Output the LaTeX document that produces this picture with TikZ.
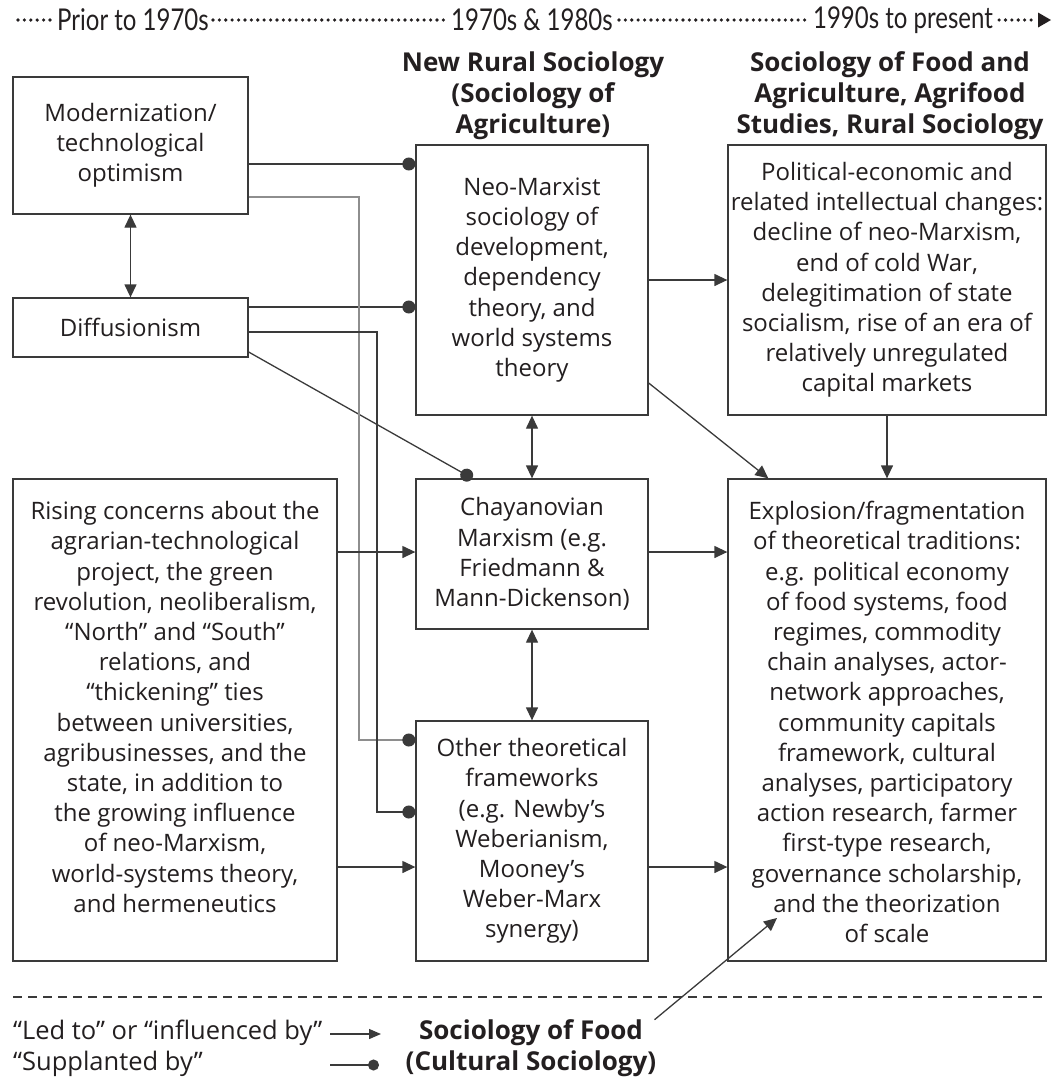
\documentclass[tikz,border=0pt]{standalone}
\usepackage{fontspec}
\setmainfont{Open Sans}
\newfontfamily\timefont[FakeStretch=0.8]{Lato}
\usetikzlibrary{arrows.meta,calc}
\definecolor{ink}{HTML}{231F20}
\definecolor{edge}{HTML}{3A3A3A}
\definecolor{pale}{HTML}{8E8E8E}
\begin{document}
\begin{tikzpicture}[x=1pt,y=-1pt,
  every node/.style={text=ink},
  body/.style={font=\fontsize{24}{30.2}\selectfont, align=center, inner sep=0pt},
  keytext/.style={font=\fontsize{25.5}{30}\selectfont, inner sep=0pt},
  head/.style={font=\bfseries\fontsize{26}{31}\selectfont, align=center, inner sep=0pt},
  stamp/.style={font=\timefont\fontsize{30}{30}\selectfont, inner sep=0pt},
  box/.style={draw=edge, line width=1.3pt, fill=white, inner sep=0pt},
  conn/.style={draw=edge, line width=1.3pt},
  led/.style={conn, -{Triangle[length=13pt,width=12pt]}},
  both/.style={conn, {Triangle[length=13pt,width=12pt]}-{Triangle[length=13pt,width=12pt]}},
  supp/.style={conn, -{Circle[length=13pt]}},
  tdots/.style={draw=ink, line width=3.6pt, line cap=round, dash pattern=on 0pt off 6.4pt}
]
\useasboundingbox (0,0) rectangle (1053,1080);

% ---- time line ----
\node[stamp] (t1) at (133,20) {Prior to 1970s};
\node[stamp] (t2) at (532,20) {1970s \& 1980s};
\node[stamp] (t3) at (903,20) {1990s to present};
\coordinate (tl0) at (18,20);
\coordinate (tl1) at (1036,20);
\draw[tdots] (tl0) -- ([xshift=-5]t1.west);
\draw[tdots] ([xshift=4]t1.east) -- ([xshift=-6]t2.west);
\draw[tdots] ([xshift=6]t2.east) -- ([xshift=-6]t3.west);
\draw[tdots] ([xshift=6]t3.east) -- (tl1);
\fill[ink] (1038,12.5) -- (1051,20) -- (1038,27.5) -- cycle;

% ---- column headings ----
\node[head] (h2) at (533,96) {New Rural Sociology\\(Sociology of\\Agriculture)};
\node[head] (h3) at (890,96) {Sociology of Food and\\Agriculture, Agrifood\\Studies, Rural Sociology};

% ---- boxes ----
\node[box, minimum width=235, minimum height=137] (mod) at (130.5,145.5) {};
\node[body] at (mod) {Modernization/\\technological\\optimism};

\node[box, minimum width=235, minimum height=59] (dif) at (130.5,327.5) {};
\node[body] at (dif) {Diffusionism};

\node[box, minimum width=324, minimum height=482] (ris) at (175,720) {};
\node[body] at (175,707) {Rising concerns about the\\agrarian-technological\\project, the green\\revolution, neoliberalism,\\“North” and “South”\\relations, and\\“thickening” ties\\between universities,\\agribusinesses, and the\\state, in addition to\\the growing influence\\of neo-Marxism,\\world-systems theory,\\and hermeneutics};

\node[box, minimum width=232, minimum height=270] (neo) at (532,280) {};
\node[body] at (neo) {Neo-Marxist\\sociology of\\development,\\dependency\\theory, and\\world systems\\theory};

\node[box, minimum width=232, minimum height=150] (cha) at (532,554) {};
\node[body] at (cha) {Chayanovian\\Marxism (e.g.\\Friedmann \&\\Mann-Dickenson)};

\node[box, minimum width=232, minimum height=240] (oth) at (532,841) {};
\node[body] at (oth) {Other theoretical\\frameworks\\(e.g. Newby’s\\Weberianism,\\Mooney’s\\Weber-Marx\\synergy)};

\node[box, minimum width=318, minimum height=270] (pol) at (887,280) {};
\node[body] at (pol) {Political-economic and\\related intellectual changes:\\decline of neo-Marxism,\\end of cold War,\\delegitimation of state\\socialism, rise of an era of\\relatively unregulated\\capital markets};

\node[box, minimum width=318, minimum height=482] (exp) at (887,720) {};
\node[body] at (887,722) {Explosion/fragmentation\\of theoretical traditions:\\e.g. political economy\\of food systems, food\\regimes, commodity\\chain analyses, actor-\\network approaches,\\community capitals\\framework, cultural\\analyses, participatory\\action research, farmer\\first-type research,\\governance scholarship,\\and the theorization\\of scale};

% ---- connectors ----
\draw[both] (mod.south) -- (dif.north);
\draw[both] (neo.south) -- (cha.north);
\draw[both] (cha.south) -- (oth.north);

\draw[supp] (mod.east |- 0,164) -- (neo.west |- 0,164);
\draw[supp] (dif.east |- 0,307) -- (neo.west |- 0,307);
\draw[supp] (dif.east |- 0,352) -- ($(cha.north west)+(57,0)$);
\draw[conn, draw=pale, -{Circle[length=13pt, color=edge, fill=edge]}] (mod.east |- 0,197) -| (359,740) -- (oth.west |- 0,740);
\draw[supp] (dif.east |- 0,332) -| (377,812) -- (oth.west |- 0,812);

\draw[led] (ris.east |- 0,552) -- (cha.west |- 0,552);
\draw[led] (ris.east |- 0,867) -- (oth.west |- 0,867);

\draw[led] (neo.east |- 0,280) -- (pol.west |- 0,280);
\draw[led] (neo.east |- 0,383) -- ($(exp.north west)+(41,0)$);
\draw[led] (pol.south) -- (exp.north);
\draw[led] (cha.east |- 0,552) -- (exp.west |- 0,552);
\draw[led] (oth.east |- 0,867) -- (exp.west |- 0,867);

% ---- separator and key ----
\coordinate (sepL) at (13,997);
\coordinate (sepR) at (1046,997);
\draw[edge, line width=1.1pt, dash pattern=on 9pt off 6pt] (sepL) -- (sepR);

\node[keytext, anchor=west] (k1) at (13,1033) {“Led to” or “influenced by”};
\node[keytext, anchor=west] (k2) at (13,1064) {“Supplanted by”};
\coordinate (k1a) at (330,1034);
\coordinate (k1b) at (381,1034);
\coordinate (k2a) at (330,1065);
\coordinate (k2b) at (379,1065);
\draw[conn, -{Triangle[length=12pt,width=10pt]}] (k1a) -- (k1b);
\draw[conn, -{Circle[length=11pt]}] (k2a) -- (k2b);

\node[head] (food) at (531,1048.5) {Sociology of Food\\(Cultural Sociology)};
\draw[led] ($(food.north east)+(-2,0)$) -- (777,918);
\end{tikzpicture}
\end{document}
